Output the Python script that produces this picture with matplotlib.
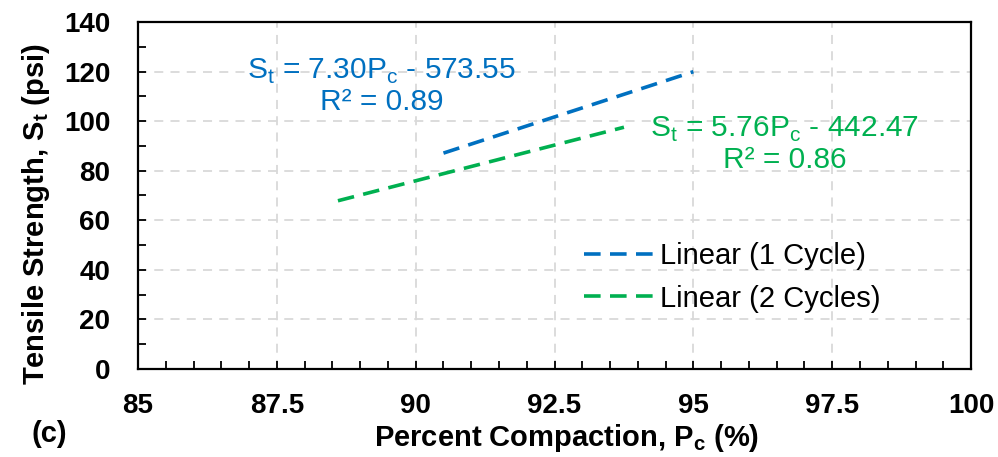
import matplotlib
matplotlib.use("Agg")
import matplotlib.pyplot as plt
from matplotlib.ticker import MultipleLocator
import numpy as np

# trendline fits: slope, intercept, R^2 and the x range each one spans
series = ["1 Cycle", "2 Cycles"]
slopes = [7.30, 5.76]
intercepts = [-573.55, -442.47]
r2 = [0.89, 0.86]
x_start = [90.5, 88.6]
x_end = [95.0, 93.75]
colors = ["#0070C0", "#00B050"]

x_ticks = [85, 87.5, 90, 92.5, 95, 97.5, 100]
x_tick_labels = ["85", "87.5", "90", "92.5", "95", "97.5", "100"]
y_ticks = [0, 20, 40, 60, 80, 100, 120, 140]

plt.rcParams["font.family"] = "Liberation Sans"
plt.rcParams["mathtext.fontset"] = "custom"
plt.rcParams["mathtext.rm"] = "Liberation Sans"

fig = plt.figure(figsize=(9.98, 4.57), dpi=100)
ax = fig.add_axes([0.1383, 0.1926, 0.8347, 0.7593])

for i in range(2):
    xs = np.array([x_start[i], x_end[i]])
    ys = slopes[i] * xs + intercepts[i]
    ax.plot(xs, ys, color=colors[i], lw=2.6, dashes=(4.6, 2.6),
            label="Linear (%s)" % series[i])

ax.set_xlim(85, 100)
ax.set_ylim(0, 140)
ax.set_xticks(x_ticks)
ax.set_xticklabels(x_tick_labels)
ax.set_yticks(y_ticks)
ax.xaxis.set_minor_locator(MultipleLocator(0.5))
ax.yaxis.set_minor_locator(MultipleLocator(10))
ax.tick_params(which="both", direction="in", length=6, width=1.3, color="black")
ax.tick_params(axis="x", which="major", pad=17)
ax.tick_params(axis="y", which="major", pad=20)
for lab in ax.get_xticklabels() + ax.get_yticklabels():
    lab.set_fontweight("bold")
    lab.set_fontsize(20)

ax.grid(True, which="major", color="#D9D9D9", lw=1.3, ls=(0, (5, 4)))
ax.set_axisbelow(True)
for sp in ax.spines.values():
    sp.set_linewidth(1.6)
    sp.set_color("black")

ax.set_xlabel(r"Percent Compaction, P$_\mathregular{c}$ (%)", fontsize=21,
              fontweight="bold")
ax.xaxis.set_label_coords(0.514, -0.153)
ax.set_ylabel(r"Tensile Strength, S$_\mathregular{t}$ (psi)", fontsize=21,
              fontweight="bold")
ax.yaxis.set_label_coords(-0.103, 0.447)

eq_pos = [(89.38, 114.0), (96.65, 90.6)]
for i in range(2):
    txt = "S$_\\mathregular{t}$ = %.2fP$_\\mathregular{c}$ - %.2f\nR² = %.2f" % (
        slopes[i], -intercepts[i], r2[i])
    ax.text(eq_pos[i][0], eq_pos[i][1], txt, color=colors[i], fontsize=21.5,
            ha="center", va="center", linespacing=1.08)

leg = ax.legend(loc="upper left", bbox_to_anchor=(0.535, 0.366), frameon=False,
                fontsize=21, handlelength=2.45, handletextpad=0.17,
                labelspacing=0.5, borderpad=0, borderaxespad=0)

fig.text(0.032, 0.033, "(c)", fontsize=21, fontweight="bold")

fig.savefig("out.png", dpi=100)
